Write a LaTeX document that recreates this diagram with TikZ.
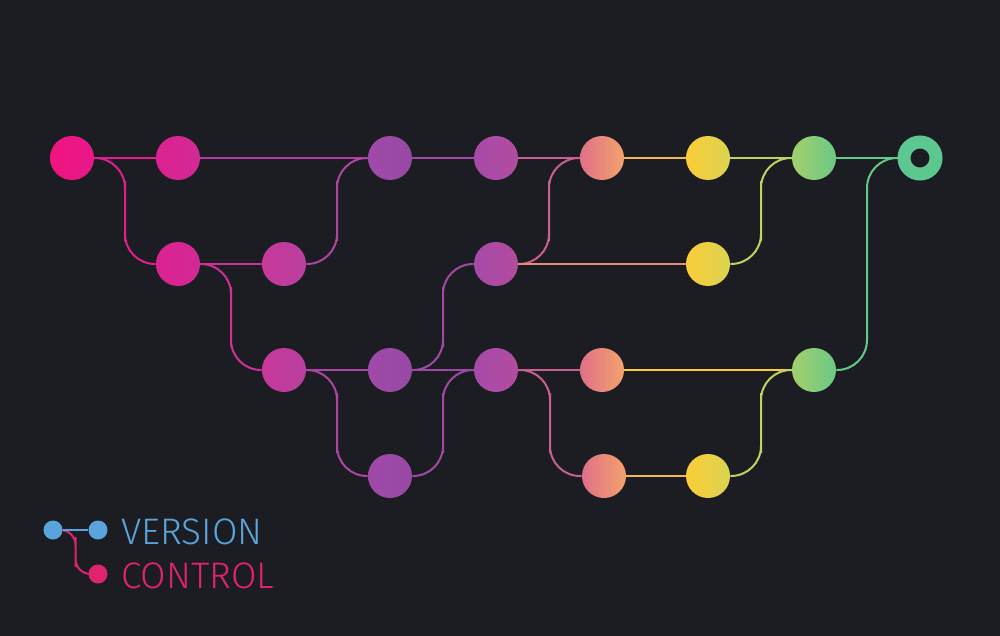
\documentclass[tikz,border=0pt]{standalone}
\usepackage{fontspec}
\newfontfamily\tagfont[UprightFont={* Light}]{Fira Sans}
\usetikzlibrary{calc,backgrounds}
\definecolor{bg}{HTML}{1C1D23}
\definecolor{c0a}{HTML}{F0147E}\definecolor{c0b}{HTML}{E8198A}
\definecolor{c1a}{HTML}{DC2290}\definecolor{c1b}{HTML}{D22A96}
\definecolor{c2a}{HTML}{C8389A}\definecolor{c2b}{HTML}{B8409F}
\definecolor{c3a}{HTML}{A04AA8}\definecolor{c3b}{HTML}{9848A6}
\definecolor{c4a}{HTML}{A64AA8}\definecolor{c4b}{HTML}{B24C9E}
\definecolor{c5a}{HTML}{E07088}\definecolor{c5b}{HTML}{F2A26C}
\definecolor{c6a}{HTML}{FACC38}\definecolor{c6b}{HTML}{DAD450}
\definecolor{c7a}{HTML}{A2D06C}\definecolor{c7b}{HTML}{6CC884}
\definecolor{c8}{HTML}{5CC890}
\definecolor{vblue}{HTML}{5AA4DC}
\definecolor{vpink}{HTML}{E0236E}
\begin{document}
\begin{tikzpicture}[x=0.2mm, y=-0.2mm,
    commit/.style = {circle, minimum size=8.8mm, inner sep=0pt},
    dot/.style = {circle, fill, minimum size=3.8mm, inner sep=0pt},
    link/.style = {line width=0.4mm, rounded corners=6mm},
    tag/.style = {anchor=base west, inner sep=0pt, font=\tagfont\fontsize{21}{21}\selectfont}]
  \useasboundingbox (0,0) rectangle (1000,636);
  \node (m0) [commit, left color=c0a, right color=c0b] at (72,158) {};
  \node (m1) [commit, left color=c1a, right color=c1b] at (178,158) {};
  \node (m3) [commit, left color=c3a, right color=c3b] at (390,158) {};
  \node (m4) [commit, left color=c4a, right color=c4b] at (496,158) {};
  \node (m5) [commit, left color=c5a, right color=c5b] at (602,158) {};
  \node (m6) [commit, left color=c6a, right color=c6b] at (708,158) {};
  \node (m7) [commit, left color=c7a, right color=c7b] at (814,158) {};
  \node (m8) [circle, minimum size=6.4mm, inner sep=0pt, draw=c8, line width=2.6mm, fill=bg] at (920,158) {};
  \node (a1) [commit, left color=c1a, right color=c1b] at (178,264) {};
  \node (a2) [commit, left color=c2a, right color=c2b] at (284,264) {};
  \node (a4) [commit, left color=c4a, right color=c4b] at (496,264) {};
  \node (a6) [commit, left color=c6a, right color=c6b] at (708,264) {};
  \node (b2) [commit, left color=c2a, right color=c2b] at (284,370) {};
  \node (b3) [commit, left color=c3a, right color=c3b] at (390,370) {};
  \node (b4) [commit, left color=c4a, right color=c4b] at (496,370) {};
  \node (b5) [commit, left color=c5a, right color=c5b] at (602,370) {};
  \node (b7) [commit, left color=c7a, right color=c7b] at (814,370) {};
  \node (c3) [commit, left color=c3a, right color=c3b] at (390,476) {};
  \node (c5) [commit, left color=c5a, right color=c5b] at (604,476) {};
  \node (c6) [commit, left color=c6a, right color=c6b] at (708,476) {};
  \node (v1) [dot, vblue] at (53,530) {};
  \node (v2) [dot, vblue] at (98,530) {};
  \node (v3) [dot, vpink] at (98,574) {};
  \node (version) [tag, vblue] at (121,544) {VERSION};
  \node (control) [tag, vpink] at (121,588) {CONTROL};
  \begin{scope}[on background layer]
    \fill[bg] (0,0) rectangle (1000,636);
    \draw[link, c0b!50!c1a] (m0) -- (m1);
    \draw[link, c1b!50!c3a] (m1) -- (m3);
    \draw[link, c3b!50!c4a] (m3) -- (m4);
    \draw[link, c4b!50!c5a] (m4) -- (m5);
    \draw[link, c5b!50!c6a] (m5) -- (m6);
    \draw[link, c6b!50!c7a] (m6) -- (m7);
    \draw[link, c7b!50!c8] (m7) -- (m8);
    \draw[link, c0b!50!c1a] (m0) -| ($(m0)!.5!(a1)$) |- (a1);
    \draw[link, c1b!50!c2a] (a1) -- (a2);
    \draw[link, c2b!50!c3a] (a2) -| ($(a2)!.5!(m3)$) |- (m3);
    \draw[link, c1b!50!c2a] (a1) -| ($(a1)!.5!(b2)$) |- (b2);
    \draw[link, c2b!50!c3a] (b2) -- (b3);
    \draw[link, c3b!50!c4a] (b3) -- (b4);
    \draw[link, c4b!50!c5a] (b4) -- (b5);
    \draw[link, c6a] (b5) -- (b7);
    \draw[link, c2b!50!c3a] (b2) -| ($(b2)!.5!(c3)$) |- (c3);
    \draw[link, c3b!50!c4a] (c3) -| ($(c3)!.5!(b4)$) |- (b4);
    \draw[link, c3b!50!c4a] (b3) -| ($(b3)!.5!(a4)$) |- (a4);
    \draw[link, c4b!50!c5a] (a4) -| ($(a4)!.5!(m5)$) |- (m5);
    \draw[link, c5a!50!c5b] (a4) -- (a6);
    \draw[link, c6b!50!c7a] (a6) -| ($(a6)!.5!(m7)$) |- (m7);
    \draw[link, c4b!50!c5a] (b4) -| ($(b4)!.5!(c5)$) |- (c5);
    \draw[link, c5b!50!c6a] (c5) -- (c6);
    \draw[link, c6b!50!c7a] (c6) -| ($(c6)!.5!(b7)$) |- (b7);
    \draw[link, c7b!50!c8] (b7) -| ($(b7)!.5!(m8)$) |- (m8);
    \draw[link, vpink, rounded corners=3mm] (v1) -| ($(v1)!.5!(v3)$) |- (v3);
    \draw[link, vblue] (v1) -- (v2);
  \end{scope}
\end{tikzpicture}
\end{document}
